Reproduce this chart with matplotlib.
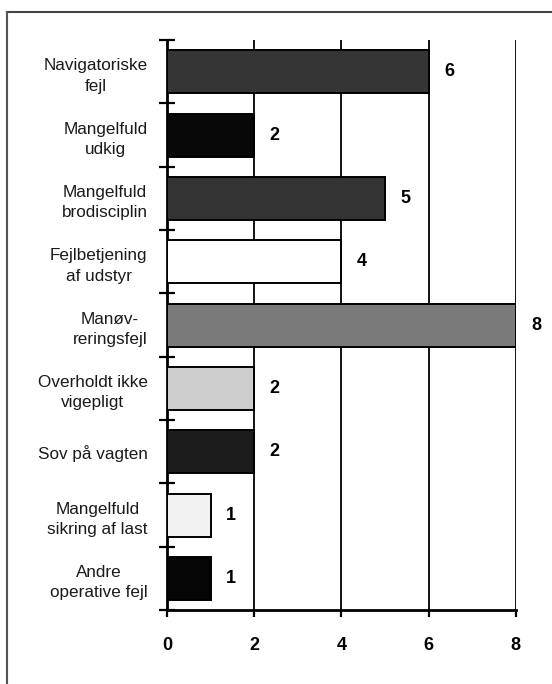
import numpy as np
import matplotlib.pyplot as plt
from matplotlib.lines import Line2D

# categories, top to bottom
labels = ['Navigatoriske\nfejl', 'Mangelfuld\nudkig', 'Mangelfuld\nbrodisciplin',
          'Fejlbetjening\naf udstyr', 'Manøv-\nreringsfejl', 'Overholdt ikke\nvigepligt',
          'Sov på vagten', 'Mangelfuld\nsikring af last', 'Andre\noperative fejl']
values = [6, 2, 5, 4, 8, 2, 2, 1, 1]
fills = ['#353535', '#080808', '#333333', '#ffffff', '#7a7a7a', '#cdcdcd',
         '#1c1c1c', '#f2f2f2', '#050505']
xticks = [0, 2, 4, 6, 8]

plt.rcParams['font.family'] = ['Liberation Sans', 'DejaVu Sans']

fig = plt.figure(figsize=(5.52, 6.84), dpi=100)
ax = fig.add_axes([0.3025, 0.108, 0.632, 0.8333])

n = len(labels)
ypos = np.arange(n)
ax.barh(ypos, values, height=0.68, color=fills, edgecolor='black', linewidth=1.4, zorder=3)
ax.set_ylim(n - 0.5, -0.5)
ax.set_xlim(0, 8)

for y, v in zip(ypos, values):
    ax.annotate(str(v), (v, y), xytext=(11, 0), textcoords='offset points',
                ha='left', va='center', fontsize=13, fontweight='bold')

# vertical grid lines
for x in xticks[1:]:
    ax.axvline(x, color='black', lw=1.3, zorder=1)

ax.set_yticks(ypos)
ax.set_yticklabels(labels, fontsize=12.3, multialignment='center', color='#1a1a1a',
                   linespacing=1.45)
ax.tick_params(axis='y', which='major', length=0, pad=14)
ax.set_yticks(np.arange(n + 1) - 0.5, minor=True)
ax.tick_params(axis='y', which='minor', direction='inout', length=11, width=1.6)

ax.set_xticks(xticks)
ax.set_xticklabels([str(t) for t in xticks], fontsize=13, fontweight='bold')
ax.tick_params(axis='x', direction='out', length=5, width=1.6, pad=14)

for s in ['top', 'right']:
    ax.spines[s].set_visible(False)
ax.spines['left'].set_linewidth(2)
ax.spines['bottom'].set_linewidth(2)

# scanned page frame
fig.add_artist(Line2D([7 / 552, 1.0], [1 - 12 / 684, 1 - 12 / 684], color='#444444', lw=1.5))
fig.add_artist(Line2D([7 / 552, 7 / 552], [1 - 12 / 684, 0.0], color='#555555', lw=1.5))

fig.savefig('out.png', dpi=100)
